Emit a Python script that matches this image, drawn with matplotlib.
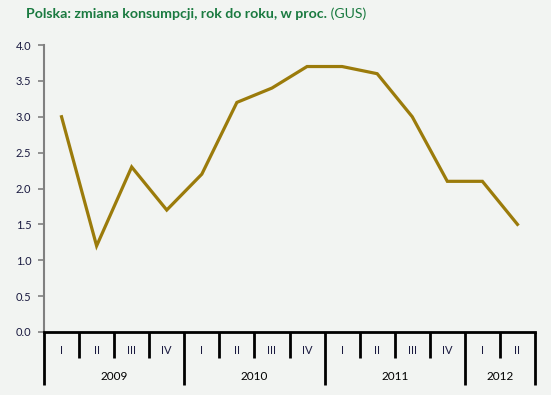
import matplotlib
matplotlib.use("Agg")
import matplotlib.pyplot as plt
import matplotlib.transforms as mtransforms

years = ["2009", "2010", "2011", "2012"]
quarters_per_year = [4, 4, 4, 2]
quarter_labels = ["I", "II", "III", "IV", "I", "II", "III", "IV",
                  "I", "II", "III", "IV", "I", "II"]
values = [3.0, 1.2, 2.3, 1.7, 2.2, 3.2, 3.4, 3.7, 3.7, 3.6, 3.0, 2.1, 2.1, 1.5]
yticks = [0.0, 0.5, 1.0, 1.5, 2.0, 2.5, 3.0, 3.5, 4.0]

BG = "#f2f4f2"
LINE = "#9b7b0b"
TITLE = "#1a7a40"
TXT = "#1a1a40"
FONT = ["Lato", "DejaVu Sans"]

plt.rcParams["font.family"] = FONT

W, H = 551, 395
fig = plt.figure(figsize=(W / 100, H / 100), dpi=100, facecolor=BG)
x0, x1, y0, y1 = 44, 535, 332, 45
ax = fig.add_axes([x0 / W, (H - y0) / H, (x1 - x0) / W, (y0 - y1) / H])
ax.set_facecolor(BG)

n = len(values)
xs = list(range(n))
ax.plot(xs, values, color=LINE, lw=2.3, solid_joinstyle="miter")
ax.set_xlim(-0.5, n - 0.5)
ax.set_ylim(0, 4)
ax.set_yticks(yticks)
ax.set_yticklabels([f"{v:.1f}" for v in yticks], fontsize=8, color=TXT)
ax.tick_params(axis="y", length=4, width=1.2, color="#808080", pad=5)
ax.set_xticks([])
for s in ["top", "right"]:
    ax.spines[s].set_visible(False)
ax.spines["left"].set_color("#808080")
ax.spines["left"].set_linewidth(1.5)
ax.spines["bottom"].set_color("black")
ax.spines["bottom"].set_linewidth(2)

tr = mtransforms.blended_transform_factory(ax.transData, ax.transAxes)
ph = y0 - y1
q_bottom = -(358 - y0) / ph
y_bottom = -(385 - y0) / ph
q_text = -(350 - y0) / ph
y_text = -(377 - y0) / ph

# boundaries
year_bounds = [-0.5]
for q in quarters_per_year:
    year_bounds.append(year_bounds[-1] + q)
for i in range(n + 1):
    b = i - 0.5
    lo = y_bottom if b in year_bounds else q_bottom
    ax.plot([b, b], [0, lo], transform=tr, color="black", lw=2,
            clip_on=False, solid_capstyle="butt")

for i, lab in enumerate(quarter_labels):
    ax.text(i, q_text, lab, transform=tr, ha="center", va="center",
            fontsize=8, color=TXT)
for k, yr in enumerate(years):
    c = (year_bounds[k] + year_bounds[k + 1]) / 2
    ax.text(c, y_text, yr, transform=tr, ha="center", va="center",
            fontsize=8.5, color="black")

t1 = fig.text(26 / W, 1 - 18 / H, "Polska: zmiana konsumpcji, rok do roku, w proc.",
              fontsize=10.2, fontweight="bold", color=TITLE, ha="left", va="baseline")
fig.canvas.draw()
ax.annotate(" (GUS)", xy=(1, 0), xycoords=t1, fontsize=10.2, color=TITLE,
            ha="left", va="bottom", annotation_clip=False)

fig.savefig("out.png", dpi=100, facecolor=BG)
